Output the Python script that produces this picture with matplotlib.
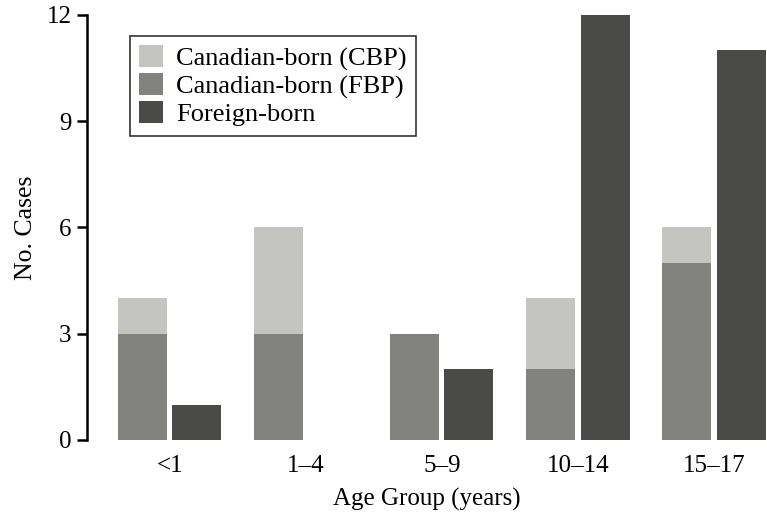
import numpy as np
import matplotlib.pyplot as plt

plt.rcParams['font.family'] = ['Liberation Serif', 'DejaVu Serif']

groups = ['<1', '1–4', '5–9', '10–14', '15–17']
cbp = [1, 3, 0, 2, 1]
fbp = [3, 3, 3, 2, 5]
foreign = [1, 0, 2, 12, 11]

c_cbp = '#c4c4c0'
c_fbp = '#82827e'
c_fb = '#4a4a48'

x = np.arange(len(groups))
w = 0.36
off = 0.2

fig = plt.figure(figsize=(7.67, 5.17), dpi=100)
ax = fig.add_axes([0.1134, 0.149, 0.8866, 0.822])

ax.bar(x - off, fbp, w, color=c_fbp, label='Canadian-born (FBP)')
ax.bar(x - off, cbp, w, bottom=fbp, color=c_cbp, label='Canadian-born (CBP)')
ax.bar(x + off, foreign, w, color=c_fb, label='Foreign-born')

ax.set_xlim(-0.607, 4.39)
ax.set_ylim(0, 12)
ax.set_yticks([0, 3, 6, 9, 12])
ax.set_xticks(x)
ax.set_xticklabels(groups)

for s in ['top', 'right', 'bottom']:
    ax.spines[s].set_visible(False)
ax.spines['left'].set_linewidth(1.8)
ax.tick_params(axis='y', length=7, width=1.8, labelsize=18, pad=4)
ax.tick_params(axis='x', length=0, labelsize=18, pad=11)

ax.set_ylabel('No. Cases', fontsize=18.5, labelpad=7)
ax.set_xlabel('Age Group (years)', fontsize=18, labelpad=8)

h, l = ax.get_legend_handles_labels()
order = [1, 0, 2]
leg = ax.legend([h[i] for i in order], [l[i] for i in order],
                loc='upper left', bbox_to_anchor=(0.063, 0.951), fontsize=19,
                frameon=True, fancybox=False, handlelength=0.9, handleheight=0.9,
                handletextpad=0.5, labelspacing=0.1, borderpad=0.35,
                borderaxespad=0)
leg.get_frame().set_edgecolor('black')
leg.get_frame().set_linewidth(1.2)

fig.savefig('out.png', dpi=100)
